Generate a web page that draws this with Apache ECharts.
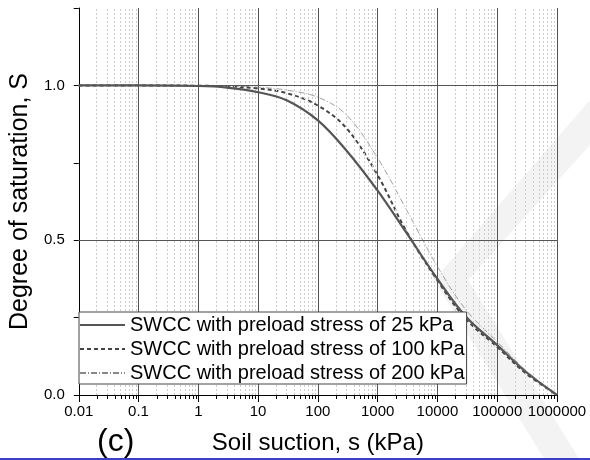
<!DOCTYPE html>
<html><head><meta charset="utf-8">
<script src="https://cdn.jsdelivr.net/npm/echarts@6/dist/echarts.min.js"></script>
<style>html,body{margin:0;padding:0;background:#fff}#c{width:590px;height:460px}</style>
</head><body><div id="c"></div>
<script>
// ---- data ----
const suction = [0.01, 0.1, 1, 3, 10, 30, 100, 300, 1000, 3000, 10000, 30000, 100000, 300000, 1000000];
const sat25  = [1.0, 1.0, 0.998, 0.993, 0.978, 0.952, 0.887, 0.79, 0.66, 0.525, 0.375, 0.253, 0.161, 0.075, 0.0];
const sat100 = [1.0, 1.0, 0.999, 0.997, 0.990, 0.975, 0.935, 0.862, 0.71, 0.53, 0.37, 0.245, 0.155, 0.07, 0.0];
const sat200 = [1.0, 1.0, 1.0, 0.998, 0.994, 0.985, 0.962, 0.905, 0.765, 0.60, 0.415, 0.275, 0.172, 0.08, 0.0];
const seriesNames = ['SWCC with preload stress of 25 kPa', 'SWCC with preload stress of 100 kPa', 'SWCC with preload stress of 200 kPa'];
const xTickLabels = ['0.01', '0.1', '1', '10', '100', '1000', '10000', '100000', '1000000'];
const yTickLabels = ['0.0', '0.5', '1.0'];
const yMajorValues = [0.5, 1.0];
const decades = [0.01, 0.1, 1, 10, 100, 1000, 10000, 100000];
const minorMultipliers = [2, 3, 4, 5, 6, 7, 8, 9];

const minorValues = [];
decades.forEach(d => minorMultipliers.forEach(m => minorValues.push(+(d * m).toPrecision(6))));

const pair = arr => suction.map((s, i) => [s, arr[i]]);
const FONT = '"Liberation Sans", Arial, sans-serif';

const chart = echarts.init(document.getElementById('c'), null, {renderer: 'canvas'});
chart.setOption({
  animation: false,
  backgroundColor: '#fff',
  grid: {left: 78, right: 33, top: 8, bottom: 65, containLabel: false},
  xAxis: {
    type: 'log', logBase: 10, min: 0.01, max: 1000000, splitNumber: 8,
    name: 'Soil suction, s (kPa)', nameLocation: 'middle', nameGap: 36,
    nameTextStyle: {fontFamily: FONT, fontSize: 24, color: '#000'},
    axisLine: {show: true, onZero: false, lineStyle: {color: '#000', width: 1}},
    axisTick: {show: true, inside: false, length: 7, lineStyle: {color: '#000'}},
    axisLabel: {
      fontFamily: FONT, fontSize: 15, color: '#000', margin: 9,
      showMinLabel: true, showMaxLabel: true, hideOverlap: false,
      formatter: v => xTickLabels[Math.round(Math.log10(v)) + 2] || ''
    },
    splitLine: {show: true, lineStyle: {color: '#555', width: 1}}
  },
  yAxis: {
    type: 'value', min: 0, max: 1.25, interval: 0.25,
    name: 'Degree of saturation, S', nameLocation: 'middle', nameGap: 45,
    nameTextStyle: {fontFamily: FONT, fontSize: 25, color: '#000'},
    axisLine: {show: true, lineStyle: {color: '#000', width: 1}},
    axisTick: {show: true, inside: false, length: 5, lineStyle: {color: '#000'}},
    axisLabel: {
      fontFamily: FONT, fontSize: 15, color: '#000', margin: 14,
      formatter: v => {
        const k = Math.round(v * 2);
        return Math.abs(v * 2 - k) < 1e-9 && k <= 2 ? yTickLabels[k] : '';
      }
    },
    splitLine: {show: false}
  },
  legend: {
    data: seriesNames,
    orient: 'vertical', left: 79, top: 312,
    itemWidth: 45, itemHeight: 14, itemGap: 4,
    padding: [3, 2, 1, 0],
    backgroundColor: '#fff', borderColor: '#444', borderWidth: 1,
    itemStyle: {opacity: 0},
    textStyle: {fontFamily: FONT, fontSize: 20, color: '#000'},
    selectedMode: false, z: 10
  },
  graphic: [
    {type: 'polygon', z: -1, silent: true,
     shape: {points: [[590, 100], [434, 280], [545, 460], [580, 460], [468, 280], [590, 145]]},
     style: {fill: '#f3f3f3'}},
    {type: 'rect', z: 100, shape: {x: 0, y: 458, width: 590, height: 2}, style: {fill: '#3c3fc2'}},
    {type: 'text', z: 100, left: 97, top: 426,
     style: {text: '(c)', font: '32px "Liberation Sans", Arial, sans-serif', fill: '#000'}}
  ],
  series: [
    {
      name: 'ticks', type: 'custom', z: 1, clip: false, silent: true,
      data: minorValues.map(v => [v, 0]),
      renderItem: (params, api) => {
        const p = api.coord([api.value(0), api.value(1)]);
        return {type: 'line', shape: {x1: Math.round(p[0]) + 0.5, y1: p[1], x2: Math.round(p[0]) + 0.5, y2: p[1] + 4},
                style: {stroke: '#000', lineWidth: 1}};
      },
      markLine: {
        silent: true, symbol: 'none', label: {show: false},
        lineStyle: {color: '#cccccc', type: [2, 2], width: 1},
        data: minorValues.map(v => ({xAxis: v}))
          .concat(yMajorValues.map(v => ({yAxis: v, lineStyle: {color: '#555', type: 'solid', width: 1}})))
      }
    },
    {
      name: seriesNames[0], type: 'line', data: pair(sat25), symbol: 'none',
      smooth: 0.35, z: 5,
      lineStyle: {color: '#555555', width: 2.2, type: 'solid'}, itemStyle: {color: '#555555'}
    },
    {
      name: seriesNames[1], type: 'line', data: pair(sat100), symbol: 'none',
      smooth: 0.35, z: 4,
      lineStyle: {color: '#444444', width: 2, type: [4, 3]}, itemStyle: {color: '#444444'}
    },
    {
      name: seriesNames[2], type: 'line', data: pair(sat200), symbol: 'none',
      smooth: 0.35, z: 3,
      lineStyle: {color: '#888888', width: 0.8, type: [6, 2, 1, 2]}, itemStyle: {color: '#888888'}
    }
  ]
});
</script></body></html>
